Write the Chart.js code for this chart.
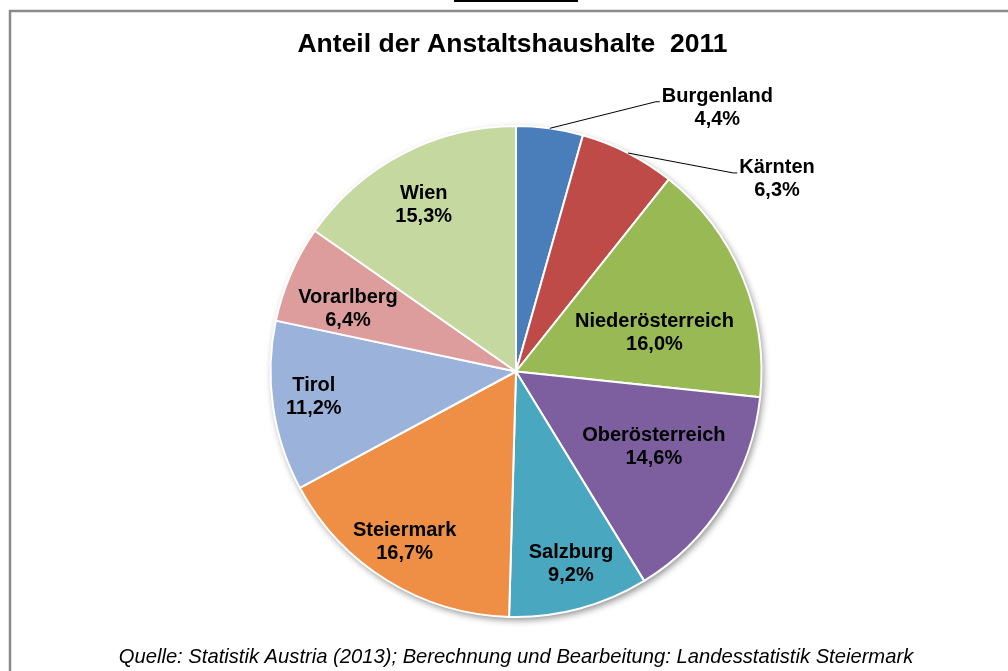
<!DOCTYPE html>
<html lang="de">
<head>
<meta charset="utf-8">
<title>Anteil der Anstaltshaushalte 2011</title>
<script src="https://cdn.jsdelivr.net/npm/chart.js@4.4.1/dist/chart.umd.min.js"></script>
<style>
  html, body { margin: 0; padding: 0; background: #fff; overflow: hidden; }
  canvas { display: block; }
</style>
</head>
<body>
<canvas id="grafico-anstalt" width="1008" height="671"></canvas>
<script>
// Daten (Anteile in %)
const bundeslaender = ['Burgenland', 'Kärnten', 'Niederösterreich', 'Oberösterreich', 'Salzburg',
                       'Steiermark', 'Tirol', 'Vorarlberg', 'Wien'];
const anteile       = [4.4, 6.3, 16.0, 14.6, 9.2, 16.7, 11.2, 6.4, 15.3];
const farben        = ['#4a7ebb', '#be4b48', '#98b954', '#7d5fa0', '#4aa7c0',
                       '#ee8f45', '#9bb3da', '#dc9d9c', '#c4d89f'];

const titel  = 'Anteil der Anstaltshaushalte  2011';
const quelle = 'Quelle: Statistik Austria (2013); Berechnung und Bearbeitung: Landesstatistik Steiermark';

// Lage der Beschriftungen: r = Anteil des Radius, da = Verschiebung des Winkels (Grad)
const labelLage = [
  { r: 1.35, da: 29.5, aussen: true },
  { r: 1.32, da: 26.5, aussen: true },
  { r: 0.585, da: 7.3 },
  { r: 0.64, da: -3.6 },
  { r: 0.815, da: -1 },
  { r: 0.83, da: 1.5 },
  { r: 0.83, da: 1 },
  { r: 0.73, da: -3.1 },
  { r: 0.775, da: -1.5 }
];

const fmt = v => v.toFixed(1).replace('.', ',') + '%';

// Rahmen, Titel, Quelle
const rahmenPlugin = {
  id: 'rahmen',
  beforeDraw(chart) {
    const ctx = chart.ctx;
    ctx.save();
    ctx.fillStyle = '#000';
    ctx.fillRect(454, 0, 124, 2);
    ctx.strokeStyle = '#8a8a8a';
    ctx.lineWidth = 2.5;
    ctx.beginPath();
    ctx.moveTo(10, 700);
    ctx.lineTo(10, 11);
    ctx.lineTo(1020, 11);
    ctx.stroke();
    ctx.restore();
  },
  beforeDatasetsDraw(chart) {
    // Schatten unter dem Kreis
    const arc = chart.getDatasetMeta(0).data[0];
    if (!arc) return;
    const ctx = chart.ctx;
    ctx.save();
    ctx.shadowColor = 'rgba(0,0,0,0.45)';
    ctx.shadowBlur = 7;
    ctx.shadowOffsetX = 2;
    ctx.shadowOffsetY = 3;
    ctx.fillStyle = '#fff';
    ctx.beginPath();
    ctx.arc(arc.x, arc.y, arc.outerRadius, 0, Math.PI * 2);
    ctx.fill();
    ctx.restore();
  },
  afterDraw(chart) {
    const ctx = chart.ctx;
    ctx.save();
    ctx.fillStyle = '#000';
    ctx.textAlign = 'center';
    ctx.textBaseline = 'middle';
    ctx.font = 'bold 26.5px "Liberation Sans", Arial, sans-serif';
    ctx.fillText(titel, 512.5, 45);
    ctx.font = 'italic 20.2px "Liberation Sans", Arial, sans-serif';
    ctx.fillText(quelle, 516, 657);
    ctx.restore();
  }
};

// Beschriftungen der Segmente
const labelPlugin = {
  id: 'segmentLabels',
  afterDatasetsDraw(chart) {
    const ctx = chart.ctx;
    const meta = chart.getDatasetMeta(0);
    ctx.save();
    ctx.font = 'bold 20px "Liberation Sans", Arial, sans-serif';
    ctx.fillStyle = '#000';
    ctx.textAlign = 'center';
    ctx.textBaseline = 'middle';
    meta.data.forEach((arc, i) => {
      const lage = labelLage[i];
      const mitte = (arc.startAngle + arc.endAngle) / 2;
      const w = mitte + lage.da * Math.PI / 180;
      const R = arc.outerRadius;
      const cx = arc.x + Math.cos(w) * R * lage.r;
      const cy = arc.y + Math.sin(w) * R * lage.r;
      const z1 = bundeslaender[i];
      const z2 = fmt(anteile[i]);
      if (lage.aussen) {
        const breite = ctx.measureText(z1).width;
        const links = cx - breite / 2;
        ctx.strokeStyle = '#000';
        ctx.lineWidth = 1;
        ctx.beginPath();
        ctx.moveTo(arc.x + Math.cos(mitte) * R, arc.y + Math.sin(mitte) * R);
        ctx.lineTo(links - 6, cy - 11.5 + 5);
        ctx.lineTo(links - 2, cy - 11.5 + 5);
        ctx.stroke();
      }
      ctx.fillText(z1, cx, cy - 11.5);
      ctx.fillText(z2, cx, cy + 11.5);
    });
    ctx.restore();
  }
};

new Chart(document.getElementById('grafico-anstalt').getContext('2d'), {
  type: 'pie',
  data: {
    labels: bundeslaender,
    datasets: [{
      data: anteile,
      backgroundColor: farben,
      borderColor: '#fff',
      borderWidth: 2
    }]
  },
  options: {
    responsive: false,
    animation: false,
    layout: { padding: { top: 125, bottom: 53, left: 269, right: 245 } },
    plugins: {
      legend: { display: false },
      tooltip: { enabled: false }
    }
  },
  plugins: [rahmenPlugin, labelPlugin]
});
</script>
</body>
</html>
